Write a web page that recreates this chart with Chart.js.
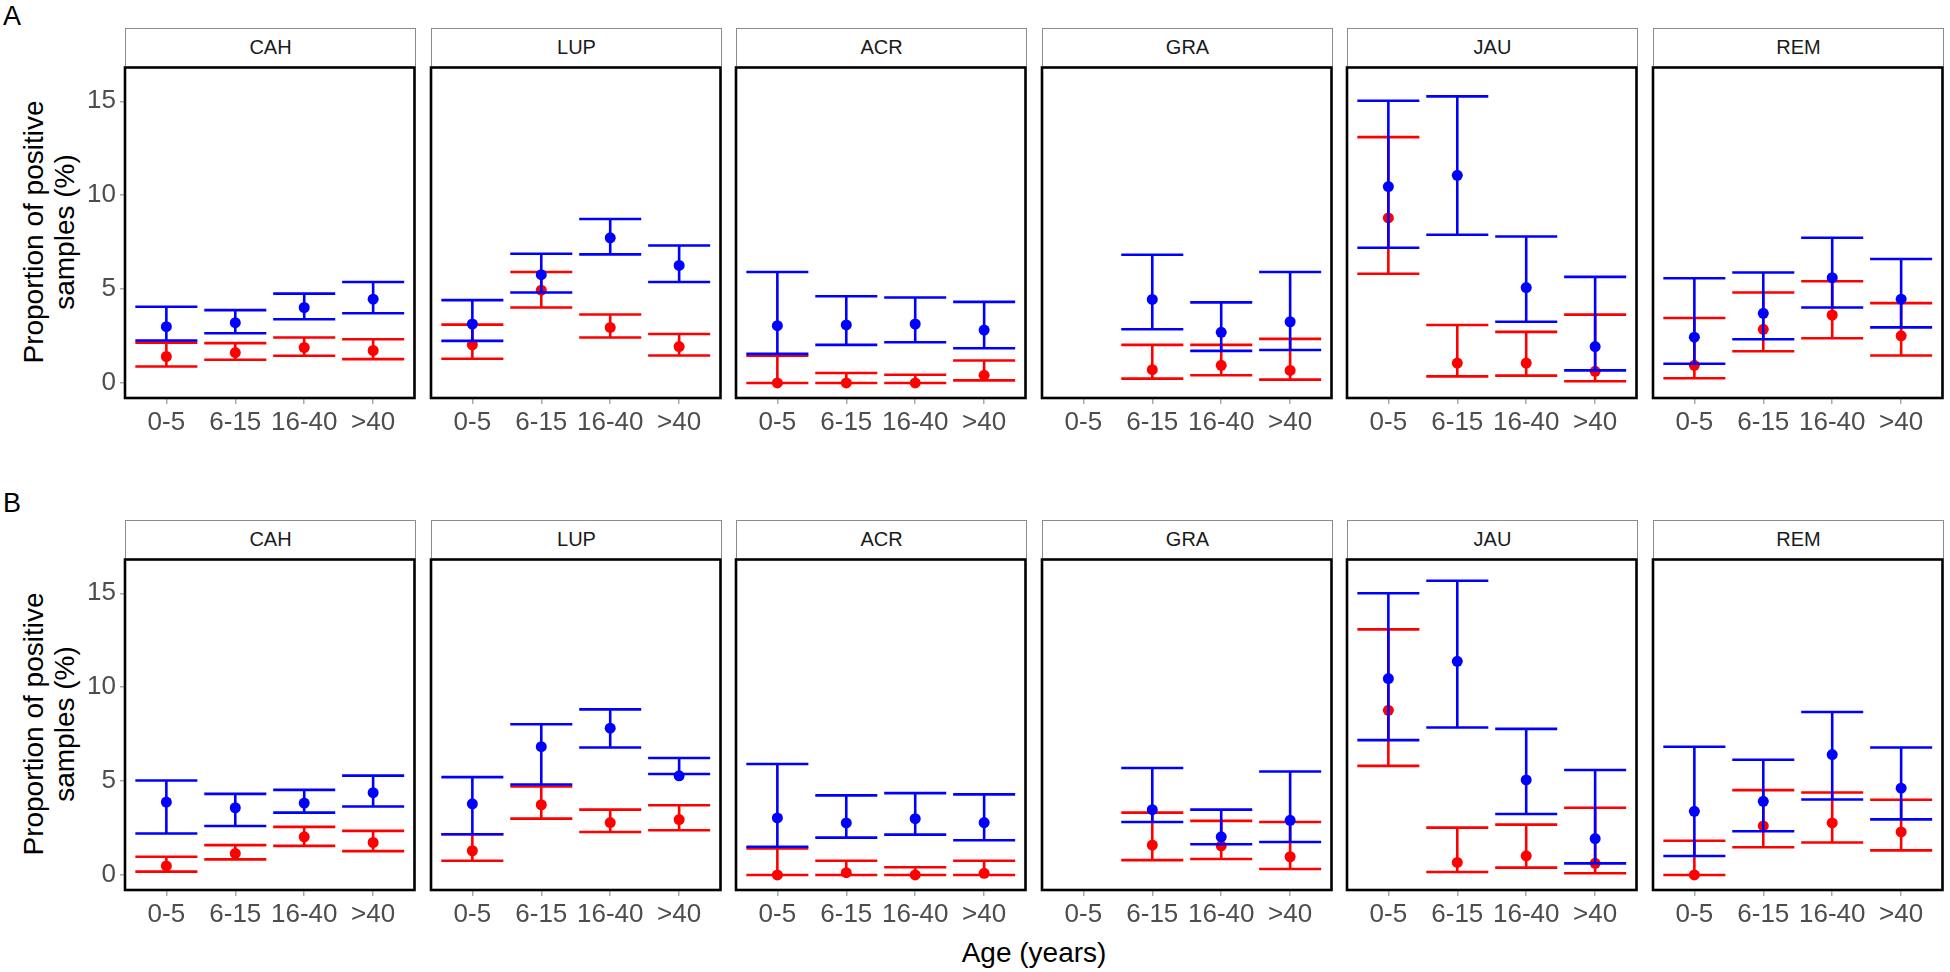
<!DOCTYPE html>
<html><head><meta charset="utf-8">
<script src="https://cdn.jsdelivr.net/npm/chart.js@4.4.0/dist/chart.umd.min.js"></script>
<style>
html,body{margin:0;padding:0;background:#fff;width:1950px;height:972px;overflow:hidden;font-family:"Liberation Sans",Arial,sans-serif;}
canvas{position:absolute;}
.strip{position:absolute;box-sizing:border-box;border:1px solid #8c8c8c;border-bottom:none;background:#fff;color:#1a1a1a;font-size:20px;text-align:center;}
.txt{position:absolute;color:#000;white-space:nowrap;}
</style></head><body>
<script>
// ---------- data ----------
const ages = ['0-5','6-15','16-40','>40'];
const sites = ['CAH','LUP','ACR','GRA','JAU','REM'];
const yTicks = [0,5,10,15];
const rowLabels = ['A','B'];

// Panel A
const A_blue_mid = [[3.0,3.21,4.02,4.46],[3.14,5.77,7.73,6.26],[3.05,3.09,3.14,2.82],[null,4.45,2.70,3.26],[10.46,11.06,5.08,1.94],[2.44,3.71,5.61,4.46]];
const A_blue_lo  = [[2.26,2.65,3.39,3.71],[2.24,4.82,6.85,5.38],[1.55,2.03,2.17,1.85],[null,2.86,1.71,1.76],[7.2,7.89,3.26,0.67],[1.02,2.33,4.02,2.96]];
const A_blue_hi  = [[4.06,3.88,4.76,5.38],[4.41,6.88,8.73,7.32],[5.91,4.62,4.55,4.32],[null,6.83,4.29,5.91],[15.03,15.26,7.8,5.65],[5.58,5.88,7.73,6.6]];
const A_red_mid  = [[1.41,1.62,1.89,1.73],[2.03,4.94,2.96,1.94],[0,0,0,0.41],[null,0.71,0.94,0.67],[8.79,1.06,1.06,0.62],[0.94,2.86,3.62,2.51]];
const A_red_lo   = [[0.88,1.24,1.45,1.27],[1.29,4.02,2.42,1.46],[0,0,0,0.14],[null,0.23,0.41,0.18],[5.82,0.35,0.39,0.09],[0.25,1.69,2.38,1.46]];
const A_red_hi   = [[2.15,2.12,2.42,2.33],[3.11,5.91,3.65,2.61],[1.45,0.53,0.44,1.2],[null,2.03,2.03,2.35],[13.09,3.09,2.72,3.64],[3.46,4.82,5.42,4.25]];

// Panel B
const B_blue_mid = [[3.88,3.58,3.83,4.38],[3.79,6.83,7.82,5.28],[3.04,2.77,3.0,2.79],[null,3.48,2.03,2.91],[10.46,11.38,5.06,1.94],[3.39,3.92,6.41,4.62]];
const B_blue_lo  = [[2.21,2.61,3.32,3.65],[2.17,4.82,6.79,5.38],[1.5,1.99,2.15,1.85],[null,2.82,1.64,1.76],[7.18,7.85,3.25,0.62],[1.01,2.33,4.02,2.96]];
const B_blue_hi  = [[5.03,4.32,4.53,5.29],[5.21,8.03,8.82,6.23],[5.91,4.24,4.36,4.29],[null,5.7,3.48,5.51],[15.0,15.67,7.78,5.59],[6.83,6.14,8.68,6.79]];
const B_red_mid  = [[0.48,1.15,2.03,1.73],[1.29,3.74,2.79,2.95],[0,0.12,0,0.09],[null,1.59,1.55,0.97],[8.77,0.67,1.02,0.62],[0,2.61,2.77,2.29]];
const B_red_lo   = [[0.18,0.83,1.55,1.27],[0.76,3.0,2.29,2.38],[0,0,0,0],[null,0.79,0.85,0.32],[5.81,0.16,0.39,0.09],[0,1.48,1.73,1.31]];
const B_red_hi   = [[0.97,1.59,2.56,2.35],[2.17,4.71,3.48,3.71],[1.41,0.76,0.41,0.76],[null,3.32,2.88,2.82],[13.08,2.52,2.68,3.58],[1.82,4.52,4.39,4.01]];

const rows = [
  {red:[A_red_mid,A_red_lo,A_red_hi], blue:[A_blue_mid,A_blue_lo,A_blue_hi]},
  {red:[B_red_mid,B_red_lo,B_red_hi], blue:[B_blue_mid,B_blue_lo,B_blue_hi]}
];

// ---------- layout ----------
const FONT = '"Liberation Sans", Arial, sans-serif';
const panelL0 = 125, panelStep = 305.5, panelW = 291, panelH = 332;
const rowTops = [66, 558];
const letterTops = [3, 490];
const stripH = 38;
const padL = 70, padB = 46, padT = 4, padR = 4;

const errPlugin = {
  id: 'errbars',
  beforeDatasetDraw(chart, args) {
    const ds = chart.data.datasets[args.index];
    const xs = chart.scales.x, ys = chart.scales.y, ctx = chart.ctx;
    const hw = xs.getPixelForValue(1.45) - xs.getPixelForValue(1);
    ctx.save();
    ctx.strokeStyle = ds.borderColor;
    ctx.lineWidth = 2.6;
    ds.lo.forEach((lo, i) => {
      const hi = ds.hi[i];
      if (lo == null || hi == null) return;
      const x = xs.getPixelForValue(i + 1);
      const yl = ys.getPixelForValue(lo), yh = ys.getPixelForValue(hi);
      ctx.beginPath();
      ctx.moveTo(x, yl); ctx.lineTo(x, yh);
      ctx.moveTo(x - hw, yl); ctx.lineTo(x + hw, yl);
      ctx.moveTo(x - hw, yh); ctx.lineTo(x + hw, yh);
      ctx.stroke();
    });
    ctx.restore();
  },
  afterDraw(chart) {
    const a = chart.chartArea, ctx = chart.ctx;
    ctx.save();
    ctx.strokeStyle = '#000';
    ctx.lineWidth = 2.6;
    ctx.strokeRect(a.left, a.top, a.right - a.left, a.bottom - a.top);
    ctx.restore();
  }
};

function addText(txt, left, top, style) {
  const d = document.createElement('div');
  d.className = 'txt';
  d.textContent = txt;
  d.style.left = left + 'px';
  d.style.top = top + 'px';
  Object.assign(d.style, style || {});
  document.body.appendChild(d);
  return d;
}

rows.forEach((row, r) => {
  const top = rowTops[r];
  addText(rowLabels[r], 3, letterTops[r], {fontSize: '27px', lineHeight: '27px'});
  const t = document.createElement('div');
  t.className = 'txt';
  t.style.width = panelH + 'px';
  t.style.height = '62px';
  t.style.left = (49 - panelH / 2) + 'px';
  t.style.top = (top + panelH / 2 - 31) + 'px';
  t.style.fontSize = '28px';
  t.style.lineHeight = '31px';
  t.style.textAlign = 'center';
  t.style.transform = 'rotate(-90deg)';
  t.innerHTML = 'Proportion of positive<br>samples (%)';
  document.body.appendChild(t);

  sites.forEach((site, s) => {
    const pl = Math.round(panelL0 + s * panelStep);
    const st = document.createElement('div');
    st.className = 'strip';
    st.style.left = pl + 'px';
    st.style.top = (top - stripH) + 'px';
    st.style.width = panelW + 'px';
    st.style.height = stripH + 'px';
    st.style.lineHeight = (stripH - 2) + 'px';
    st.textContent = site;
    document.body.appendChild(st);

    const cv = document.createElement('canvas');
    const W = padL + panelW + padR, H = padT + panelH + padB;
    cv.width = W; cv.height = H;
    cv.style.left = (pl - padL) + 'px';
    cv.style.top = (top - padT) + 'px';
    cv.style.width = W + 'px'; cv.style.height = H + 'px';
    document.body.appendChild(cv);

    const first = s === 0;
    const mk = (ser, color, order) => ({
      label: color,
      data: ser[0][s].map((v, i) => ({x: i + 1, y: v})),
      lo: ser[1][s], hi: ser[2][s],
      borderColor: color,
      backgroundColor: color,
      pointRadius: 5.5,
      pointBorderWidth: 0,
      showLine: false,
      order: order
    });

    new Chart(cv, {
      type: 'scatter',
      data: { datasets: [ mk(row.blue, '#0000FF', 1), mk(row.red, '#FF0000', 2) ] },
      options: {
        responsive: false, animation: false, devicePixelRatio: 1,
        layout: { padding: { top: padT, right: padR, left: 0, bottom: 0 } },
        plugins: { legend: { display: false }, tooltip: { enabled: false } },
        scales: {
          x: {
            type: 'linear', min: 0.4, max: 4.6,
            afterBuildTicks: sc => { sc.ticks = ages.map((a, i) => ({ value: i + 1 })); },
            afterFit: sc => { sc.height = padB; sc.paddingLeft = 0; sc.paddingRight = 0; },
            ticks: { callback: v => ages[v - 1], font: { size: 26, family: FONT }, color: '#4d4d4d', padding: 3, maxRotation: 0, autoSkip: false },
            grid: { display: true, drawOnChartArea: false, drawTicks: true, tickLength: 6, color: '#aaaaaa', lineWidth: 1.5 },
            border: { display: false }
          },
          y: {
            type: 'linear', min: -0.8, max: 16.8,
            afterBuildTicks: sc => { sc.ticks = yTicks.map(v => ({ value: v })); },
            afterFit: sc => { sc.width = padL; sc.paddingTop = 0; sc.paddingBottom = 0; },
            ticks: { display: first, font: { size: 26, family: FONT }, color: '#4d4d4d', padding: 4 },
            grid: { display: first, drawOnChartArea: false, drawTicks: true, tickLength: 5, color: '#aaaaaa', lineWidth: 1.5 },
            border: { display: false }
          }
        }
      },
      plugins: [errPlugin]
    });
  });
});

addText('Age (years)', 59, 936, {width: '1950px', textAlign: 'center', fontSize: '28px', lineHeight: '34px'});
</script>
</body></html>
